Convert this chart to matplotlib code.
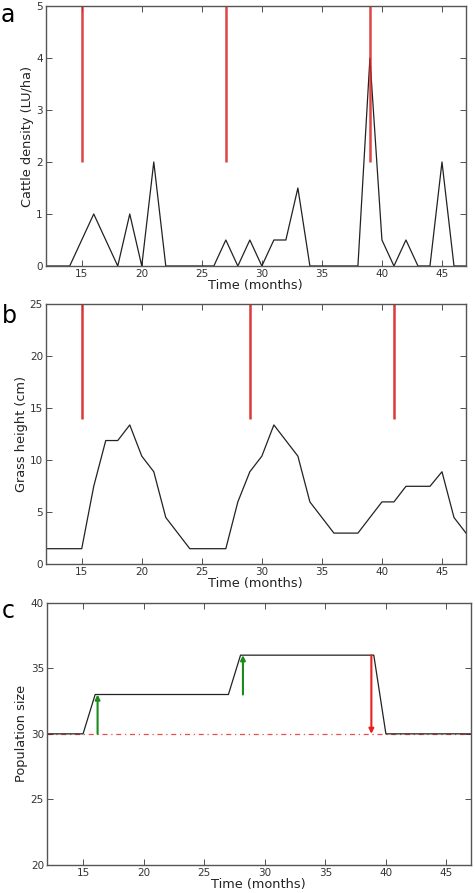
import matplotlib
matplotlib.use("Agg")
import matplotlib.pyplot as plt
import numpy as np

months = list(range(12, 48))
cattle_density = [0, 0, 0, 0.5, 1, 0.5, 0, 1, 0, 2, 0, 0, 0, 0, 0, 0.5, 0, 0.5, 0,
                  0.5, 0.5, 1.5, 0, 0, 0, 0, 0, 4, 0.5, 0, 0.5, 0, 0, 2, 0, 0]
cattle_events = [15, 27, 39]
cattle_event_range = [2, 5]

grass_height = [1.5, 1.5, 1.5, 1.5, 7.5, 11.9, 11.9, 13.4, 10.4, 8.9, 4.5, 3.0,
                1.5, 1.5, 1.5, 1.5, 6.0, 8.9, 10.4, 13.4, 11.9, 10.4, 6.0, 4.5,
                3.0, 3.0, 3.0, 4.5, 6.0, 6.0, 7.5, 7.5, 7.5, 8.9, 4.5, 3.0]
grass_events = [15, 29, 41]
grass_event_range = [14, 25]

pop_months = [12, 15, 16, 27, 28, 39, 40, 47]
pop_size = [30, 30, 33, 33, 36, 36, 30, 30]
baseline = 30
arrow_x = [16.2, 28.2, 38.8]
arrow_from = [30, 33, 36]
arrow_to = [33, 36, 30]
arrow_colors = ["#1a8a1a", "#1a8a1a", "#e8201e"]

W, H = 475, 893
fig = plt.figure(figsize=(W / 100, H / 100), dpi=100)

def box(l, t, r, b):
    return [l / W, 1 - b / H, (r - l) / W, (b - t) / H]

tick_fs = 7.5
lab_fs = 9.3

def style(ax, ylab_x):
    ax.tick_params(direction="in", top=True, right=True, labelsize=tick_fs,
                   colors="#333333", length=4, width=0.6, pad=2)
    for s in ax.spines.values():
        s.set_color("#555555")
        s.set_linewidth(1.0)
    ax.set_xlim(12, 47)
    ax.set_xticks([15, 20, 25, 30, 35, 40, 45])
    ax.set_xlabel("Time (months)", fontsize=lab_fs, labelpad=0, color="#222222")
    ax.yaxis.set_label_coords(ylab_x, 0.5)

# Panel a
ax1 = fig.add_axes(box(45.7, 6, 466, 266))
ax1.plot(months, cattle_density, color="#222222", lw=0.9)
for x in cattle_events:
    ax1.vlines(x, cattle_event_range[0], cattle_event_range[1], color="#d82424", lw=1.8, alpha=0.85)
ax1.set_ylim(0, 5)
ax1.set_yticks([0, 1, 2, 3, 4, 5])
ax1.set_ylabel("Cattle density (LU/ha)", fontsize=lab_fs, color="#222222")
style(ax1, -0.028)

# Panel b
ax2 = fig.add_axes(box(45.7, 304.3, 466, 564.3))
ax2.plot(months, grass_height, color="#222222", lw=0.9)
for x in grass_events:
    ax2.vlines(x, grass_event_range[0], grass_event_range[1], color="#d82424", lw=1.8, alpha=0.9)
ax2.set_ylim(0, 25)
ax2.set_yticks([0, 5, 10, 15, 20, 25])
ax2.set_ylabel("Grass height (cm)", fontsize=lab_fs, color="#222222")
style(ax2, -0.043)

# Panel c
ax3 = fig.add_axes(box(46.7, 602.7, 470.7, 865))
ax3.plot([12, 47], [baseline, baseline], color="#e8201e", lw=0.9, ls=(0, (4, 3, 1, 3)), alpha=0.8)
ax3.plot(pop_months, pop_size, color="#222222", lw=0.9)
for x, y0, y1, c in zip(arrow_x, arrow_from, arrow_to, arrow_colors):
    ax3.annotate("", xy=(x, y1), xytext=(x, y0),
                 arrowprops=dict(arrowstyle="-|>", color=c, lw=1.5,
                                 mutation_scale=7, shrinkA=0, shrinkB=0))
ax3.set_ylim(20, 40)
ax3.set_yticks([20, 25, 30, 35, 40])
ax3.set_ylabel("Population size", fontsize=lab_fs, color="#222222")
style(ax3, -0.045)

fig.text(1 / W, 1 - 15 / H, "a", fontsize=17, va="center", ha="left")
fig.text(2 / W, 1 - 316 / H, "b", fontsize=17, va="center", ha="left")
fig.text(2 / W, 1 - 611 / H, "c", fontsize=17, va="center", ha="left")

fig.savefig("out.png", dpi=100)
